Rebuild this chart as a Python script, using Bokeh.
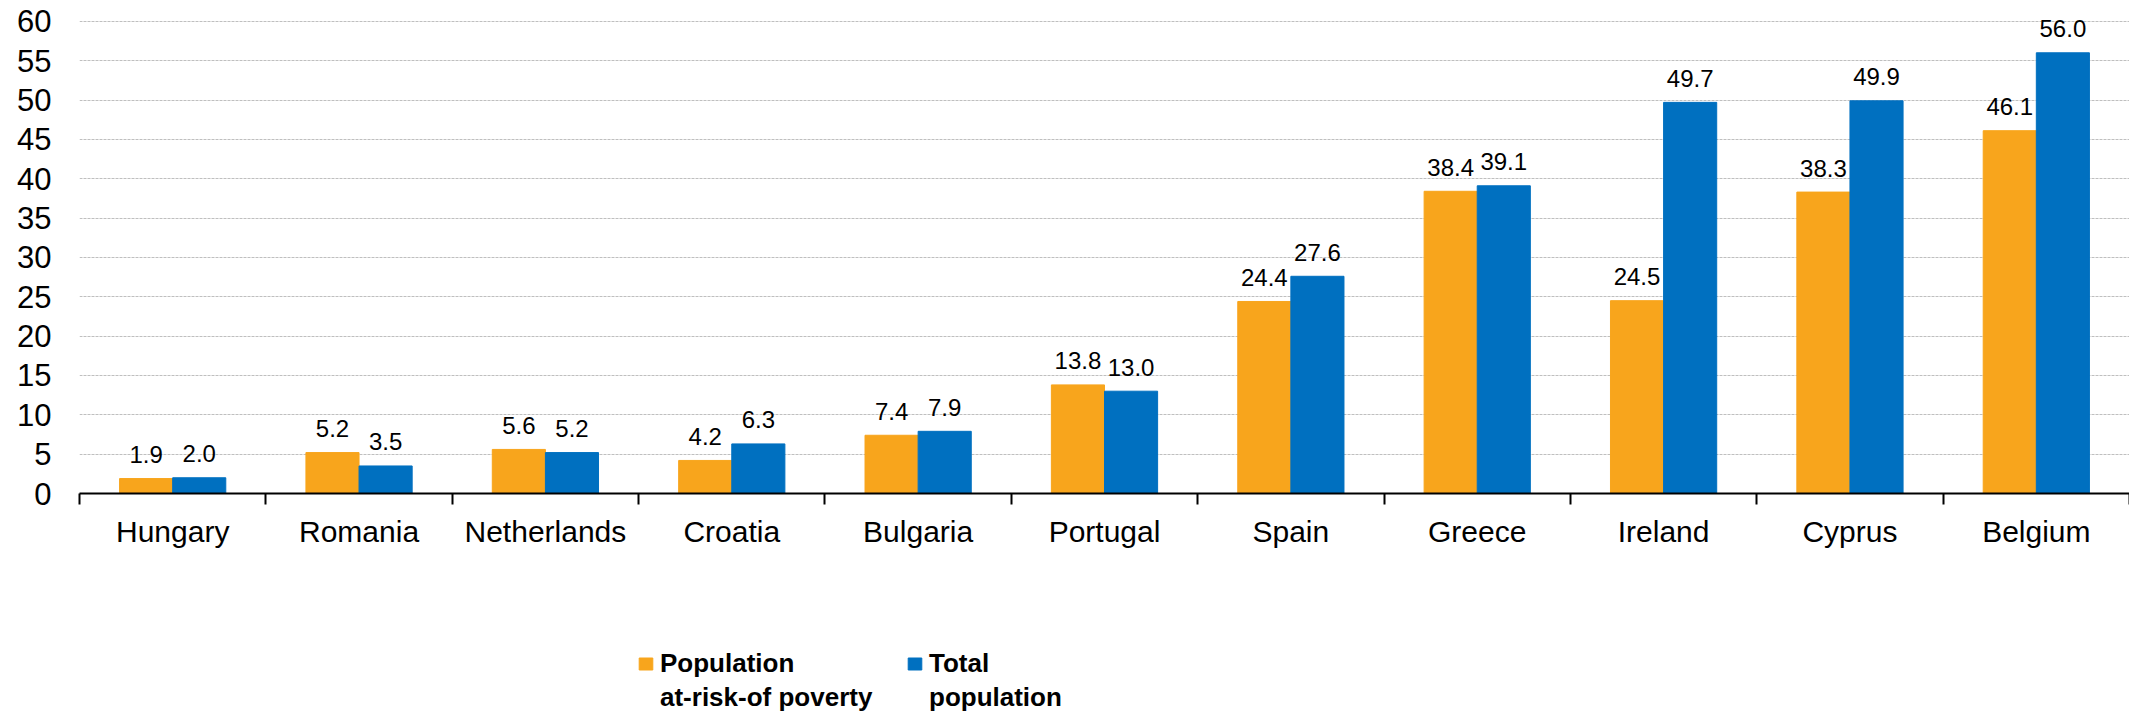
from bokeh.plotting import figure
from bokeh.layouts import column
from bokeh.models import ColumnDataSource, Range1d, FixedTicker, Legend, LegendItem
from bokeh.core.properties import value
from bokeh.embed import file_html
from bokeh.resources import INLINE

countries = ["Hungary", "Romania", "Netherlands", "Croatia", "Bulgaria", "Portugal",
             "Spain", "Greece", "Ireland", "Cyprus", "Belgium"]
at_risk = [1.9, 5.2, 5.6, 4.2, 7.4, 13.8, 24.4, 38.4, 24.5, 38.3, 46.1]
total = [2.0, 3.5, 5.2, 6.3, 7.9, 13.0, 27.6, 39.1, 49.7, 49.9, 56.0]
series_lines = [["Population", "at-risk-of poverty"], ["Total", "population"]]
y_ticks = list(range(0, 61, 5))

ORANGE = "#F8A51C"
BLUE = "#0070C0"
FONT = "Liberation Sans"

n = len(countries)
centers = [i + 0.5 for i in range(n)]
bw = 0.285
off = 0.1425

src = ColumnDataSource(dict(
    xo=[c - off for c in centers],
    xb=[c + off for c in centers],
    at_risk=at_risk,
    total=total,
    lo=["%.1f" % v for v in at_risk],
    lb=["%.1f" % v for v in total],
))

p = figure(width=2129, height=630, output_backend="svg", toolbar_location=None,
           x_range=Range1d(0, n), y_range=Range1d(0, 61.5),
           min_border_left=79, min_border_right=0, min_border_top=9,
           min_border_bottom=137)
p.outline_line_color = None

p.vbar(x="xo", top="at_risk", width=bw, source=src, fill_color=ORANGE, line_color=ORANGE)
p.vbar(x="xb", top="total", width=bw, source=src, fill_color=BLUE, line_color=BLUE)

p.text(x="xo", y="at_risk", text="lo", source=src, text_align="center",
       text_baseline="alphabetic", y_offset=-24, text_font=value(FONT),
       text_font_size="24px", text_color="#000000")
p.text(x="xb", y="total", text="lb", source=src, text_align="center",
       text_baseline="alphabetic", y_offset=-24, text_font=value(FONT),
       text_font_size="24px", text_color="#000000")

# x axis
xa = p.xaxis[0]
xa.ticker = FixedTicker(ticks=centers, minor_ticks=list(range(0, n + 1)))
xa.major_label_overrides = {c: name for c, name in zip(centers, countries)}
xa.major_tick_out = 0
xa.major_tick_in = 0
xa.minor_tick_out = 11
xa.minor_tick_in = 0
xa.minor_tick_line_color = "black"
xa.minor_tick_line_width = 2
xa.axis_line_color = "black"
xa.axis_line_width = 2
xa.major_label_standoff = 10
xa.major_label_text_font = FONT
xa.major_label_text_font_size = "30px"
xa.major_label_text_color = "#000000"

# y axis
ya = p.yaxis[0]
ya.ticker = FixedTicker(ticks=y_ticks)
ya.axis_line_color = None
ya.major_tick_out = 0
ya.major_tick_in = 0
ya.minor_tick_line_color = None
ya.major_label_standoff = 28
ya.major_label_text_font = FONT
ya.major_label_text_font_size = "31px"
ya.major_label_text_color = "#000000"

p.xgrid.grid_line_color = None
p.ygrid.ticker = FixedTicker(ticks=y_ticks[1:])
p.ygrid.grid_line_color = "#bfbfbf"
p.ygrid.grid_line_dash = "3 1"
p.ygrid.grid_line_width = 1

# legend strip below the chart
p2 = figure(width=2129, height=82, output_backend="svg", toolbar_location=None,
            x_range=Range1d(0, n), y_range=Range1d(1000, 1001),
            min_border=0, x_axis_location=None, y_axis_location=None)
p2.outline_line_color = None
p2.grid.grid_line_color = None
l1 = p2.vbar(x="xo", top="at_risk", width=bw, source=src, fill_color=ORANGE, line_color=ORANGE)
l2 = p2.vbar(x="xb", top="total", width=bw, source=src, fill_color=BLUE, line_color=BLUE)
blank = p2.vbar(x="xo", top="at_risk", width=bw, source=src, fill_alpha=0, line_alpha=0)

for rend, lines, loc in [(l1, series_lines[0], (558, -1)), (l2, series_lines[1], (827, -1))]:
    items = [LegendItem(label=lines[0], renderers=[rend]),
             LegendItem(label=lines[1], renderers=[blank])]
    lg = Legend(items=items, location=loc, orientation="vertical",
                padding=0, margin=0, spacing=3, glyph_width=17, glyph_height=15,
                label_standoff=6, border_line_color=None, background_fill_alpha=0,
                label_text_font=FONT, label_text_font_size="26px",
                label_text_font_style="bold", label_text_color="#000000")
    p2.add_layout(lg, "center")

open("out.html", "w").write(file_html(column(p, p2, spacing=0), INLINE))
